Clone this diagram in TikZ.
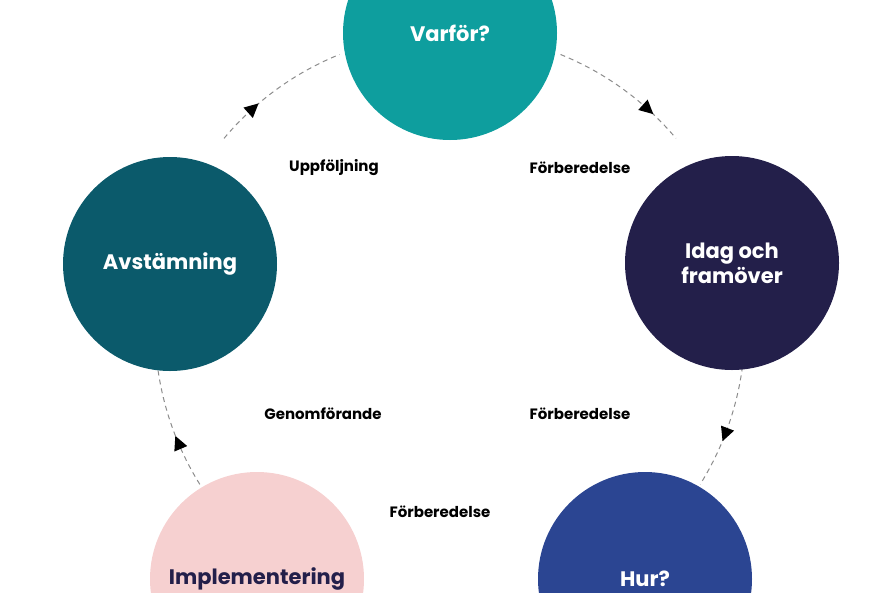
\documentclass[tikz,border=0pt]{standalone}
\usepackage{fontspec}
\setmainfont{Poppins}
\usetikzlibrary{calc}
\definecolor{teal1}{RGB}{14,158,158}
\definecolor{navy1}{RGB}{35,31,74}
\definecolor{blue1}{RGB}{43,69,146}
\definecolor{pink1}{RGB}{246,208,208}
\definecolor{teal2}{RGB}{11,90,107}
\definecolor{dash1}{RGB}{140,140,140}
\tikzset{
  phase/.style={circle, minimum size=214pt, inner sep=0pt, align=center,
    font=\fontsize{21}{25}\selectfont\bfseries, text=white},
  lbl/.style={font=\fontsize{15}{18}\selectfont\bfseries, text=black},
  ring/.style={dash1, line width=1pt, dash pattern=on 5pt off 4pt}
}
\begin{document}
\begin{tikzpicture}[x=1pt,y=-1pt]
\useasboundingbox (0,0) rectangle (888,592);
\clip (0,0) rectangle (888,592);
\coordinate (mid) at (450,328);

%dashed ring with arrows
\foreach \a/\b/\m in {68/40/48, -4/-32/-21, -76/-104/-90, -148/-176/-157, 140/112/132}{
  \draw[ring] (mid) ++(-\a:295) arc[start angle=-\a, end angle=-\b, radius=295];
  \coordinate (t) at ($(mid)+(-\m:295)$);
  \fill[black] ($(t)+({90-\m}:8)$) -- ($(t)+({270-\m}:6)+({180-\m}:7)$)
    -- ($(t)+({270-\m}:6)+({-\m}:7)$) -- cycle;
}

%circles
\node[phase, fill=teal1] (why) at (450,33) {Varför?};
\node[phase, fill=navy1] (now) at (732,263) {Idag och\\framöver};
\node[phase, fill=blue1] (how) at (645,579) {Hur?};
\node[phase, fill=pink1, text=navy1] (impl) at (257,579) {Implementering};
\node[phase, fill=teal2] (sync) at (170,264) {Avstämning};

%labels
\node[lbl] (p1) at (580,168) {Förberedelse};
\node[lbl] (p2) at (580,414) {Förberedelse};
\node[lbl] (p3) at (440,512) {Förberedelse};
\node[lbl] (run) at (323,414) {Genomförande};
\node[lbl] (follow) at (334,168) {Uppföljning};
\end{tikzpicture}
\end{document}
